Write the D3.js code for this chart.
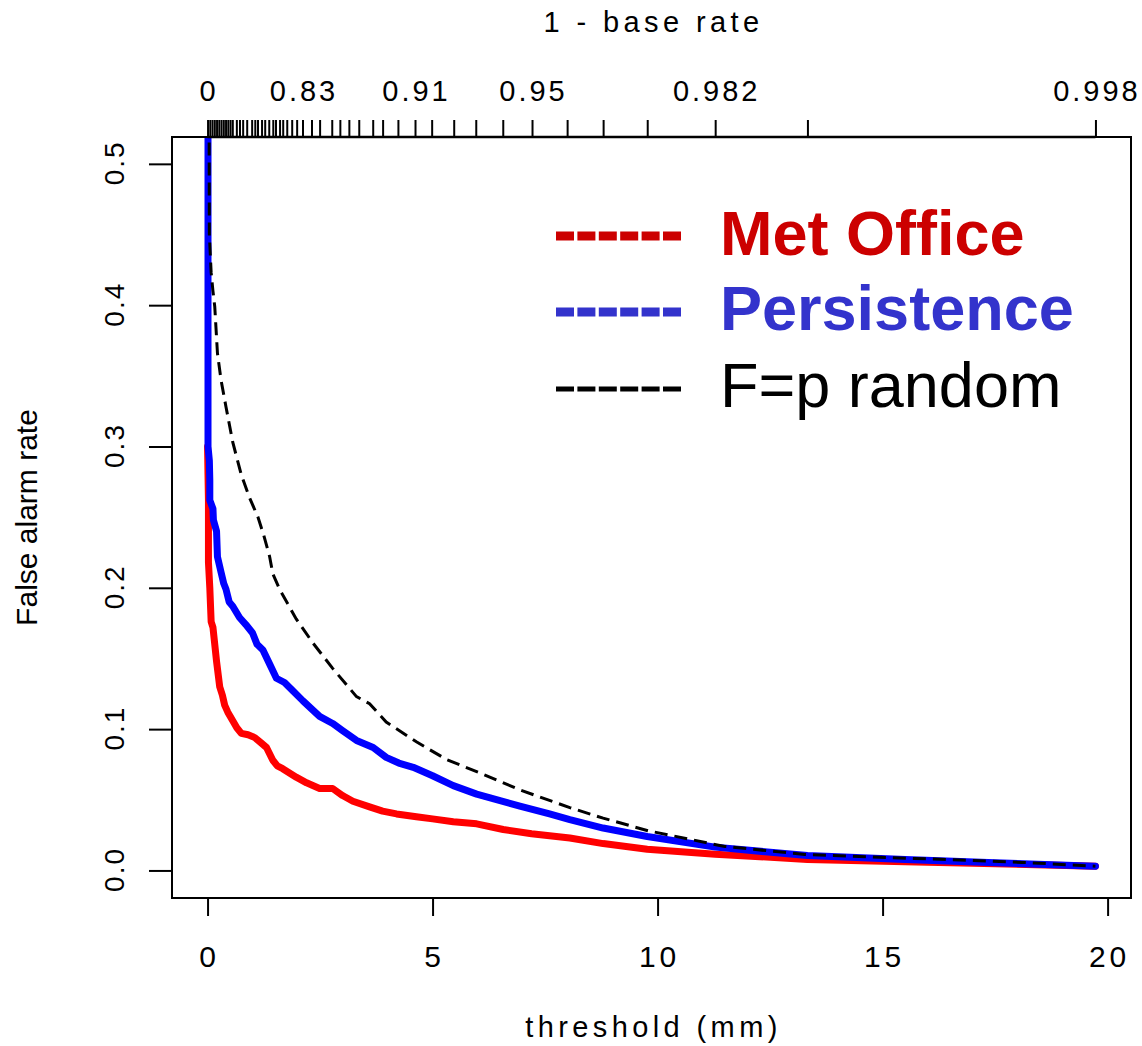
<!DOCTYPE html>
<html>
<head>
<meta charset="utf-8">
<script src="https://cdn.jsdelivr.net/npm/d3@7/dist/d3.min.js"></script>
<style>
  html, body { margin: 0; padding: 0; background: #fff; }
  svg { display: block; }
  text { font-family: "Liberation Sans", Arial, Helvetica, sans-serif; fill: #000; }
</style>
</head>
<body>
<svg id="chart" width="1142" height="1046"></svg>
<script>
// False alarm rate against precipitation threshold, [threshold (mm), F]
const metOffice = [
  [0.00, 0.300], [0.01, 0.280], [0.02, 0.262], [0.02, 0.218], [0.05, 0.200],
  [0.08, 0.176], [0.12, 0.172], [0.16, 0.160], [0.20, 0.148], [0.27, 0.130],
  [0.33, 0.124], [0.38, 0.117], [0.45, 0.112], [0.56, 0.106], [0.65, 0.101],
  [0.75, 0.097], [0.90, 0.096], [1.05, 0.094], [1.20, 0.090], [1.31, 0.087],
  [1.45, 0.078], [1.55, 0.074], [1.67, 0.072], [1.97, 0.066], [2.20, 0.062],
  [2.49, 0.058], [2.78, 0.058], [3.00, 0.053], [3.23, 0.049], [3.60, 0.045],
  [3.89, 0.042], [4.20, 0.040], [4.64, 0.038], [5.00, 0.0365], [5.46, 0.0345],
  [5.98, 0.033], [6.57, 0.029], [7.20, 0.026], [8.05, 0.023], [8.79, 0.019],
  [9.77, 0.015], [11.28, 0.0115], [13.33, 0.0078], [15.50, 0.0062], [17.50, 0.0048],
  [19.73, 0.003]
];

const persistence = [
  [0.01, 0.600], [0.01, 0.300], [0.04, 0.290], [0.05, 0.276], [0.05, 0.262],
  [0.12, 0.256], [0.13, 0.248], [0.20, 0.240], [0.22, 0.222], [0.30, 0.211],
  [0.36, 0.203], [0.41, 0.199], [0.48, 0.190], [0.56, 0.187], [0.71, 0.179],
  [0.85, 0.174], [1.00, 0.168], [1.10, 0.160], [1.23, 0.156], [1.38, 0.146],
  [1.53, 0.136], [1.71, 0.133], [1.90, 0.127], [2.12, 0.120], [2.49, 0.109],
  [2.78, 0.104], [3.00, 0.099], [3.31, 0.092], [3.68, 0.087], [3.97, 0.080],
  [4.25, 0.076], [4.57, 0.073], [5.00, 0.067], [5.46, 0.060], [5.98, 0.054],
  [6.94, 0.0455], [7.60, 0.040], [8.05, 0.036], [8.79, 0.030], [9.77, 0.024],
  [11.28, 0.0165], [13.33, 0.0105], [15.50, 0.0078], [17.50, 0.0055], [19.73, 0.003]
];

const randomFp = [
  [0.03, 0.600], [0.04, 0.450], [0.08, 0.423], [0.12, 0.410], [0.16, 0.399],
  [0.22, 0.366], [0.30, 0.347], [0.41, 0.328], [0.56, 0.303], [0.75, 0.280],
  [0.93, 0.264], [1.12, 0.250], [1.25, 0.237], [1.38, 0.222], [1.45, 0.210],
  [1.60, 0.199], [1.97, 0.178], [2.34, 0.161], [2.78, 0.143], [3.31, 0.123],
  [3.60, 0.118], [3.97, 0.105], [4.64, 0.091], [5.31, 0.0785], [6.05, 0.069],
  [6.94, 0.057], [8.05, 0.0445], [8.79, 0.037], [9.80, 0.028], [11.49, 0.017],
  [13.27, 0.0113], [15.70, 0.0085], [18.10, 0.0057], [19.73, 0.003]
];

// thresholds used, marked along the top (1 - base rate) axis
const thresholdTicks = [
  0, 0.05, 0.1, 0.15, 0.2, 0.25, 0.3, 0.35, 0.4, 0.45, 0.5, 0.55,
  0.64, 0.71, 0.78, 0.87, 0.98, 1.05, 1.11, 1.20, 1.27, 1.36, 1.45, 1.51,
  1.60, 1.67, 1.76, 1.87, 1.98, 2.11, 2.31, 2.49, 2.76, 2.94, 3.14, 3.36,
  3.67, 3.89, 4.23, 4.61, 4.98, 5.47, 5.96, 6.56, 7.21, 7.99, 8.79, 9.77,
  11.28, 13.33, 19.73
];
const baseRateLabelAt = [0, 2.11, 4.61, 7.21, 11.28, 19.73];
const baseRateLabels = ["0", "0.83", "0.91", "0.95", "0.982", "0.998"];

const thresholdTickValues = [0, 5, 10, 15, 20];
const farTickValues = [0, 0.1, 0.2, 0.3, 0.4, 0.5];

const legendNames = ["Met Office", "Persistence", "F=p random"];
const legendColors = ["#cc0000", "#3333cc", "#000000"];

// ---- layout ----
const svg = d3.select("#chart");
const plot = { left: 172, right: 1131, top: 137, bottom: 898 };

const x = d3.scaleLinear().domain([-0.79, 20.52]).range([plot.left, plot.right]);
const y = d3.scaleLinear().domain([-0.0195, 0.519]).range([plot.bottom, plot.top]);

svg.append("defs").append("clipPath").attr("id", "plot-clip")
  .append("rect")
  .attr("x", plot.left).attr("y", plot.top)
  .attr("width", plot.right - plot.left).attr("height", plot.bottom - plot.top);

// ---- curves ----
const line = d3.line().x(d => x(d[0])).y(d => y(d[1]));
const curves = svg.append("g").attr("clip-path", "url(#plot-clip)");

curves.append("path").datum(metOffice)
  .attr("d", line).attr("fill", "none")
  .attr("stroke", "#ff0000").attr("stroke-width", 7)
  .attr("stroke-linejoin", "round").attr("stroke-linecap", "round");

curves.append("path").datum(persistence)
  .attr("d", line).attr("fill", "none")
  .attr("stroke", "#0000ff").attr("stroke-width", 7)
  .attr("stroke-linejoin", "round").attr("stroke-linecap", "round");

curves.append("path").datum(randomFp)
  .attr("d", line).attr("fill", "none")
  .attr("stroke", "#000").attr("stroke-width", 3)
  .attr("stroke-dasharray", "13 7");

// ---- frame ----
svg.append("rect")
  .attr("x", plot.left).attr("y", plot.top)
  .attr("width", plot.right - plot.left).attr("height", plot.bottom - plot.top)
  .attr("fill", "none").attr("stroke", "#000").attr("stroke-width", 2);

// ---- axes ----
function styleAxis(g) {
  g.selectAll(".tick line").attr("stroke", "#000").attr("stroke-width", 2);
  g.select(".domain").remove();
  g.selectAll(".tick text").remove();
}

// bottom: threshold
const gx = svg.append("g").attr("transform", `translate(0,${plot.bottom})`)
  .call(d3.axisBottom(x).tickValues(thresholdTickValues).tickSize(18).tickSizeOuter(0));
styleAxis(gx);
svg.append("g").selectAll("text").data(thresholdTickValues).join("text")
  .attr("x", d => x(d) + 2).attr("y", 967)
  .attr("text-anchor", "middle")
  .style("font-size", "30px").style("letter-spacing", "4px")
  .text(d => d);

// top: 1 - base rate
const gt = svg.append("g").attr("transform", `translate(0,${plot.top})`)
  .call(d3.axisTop(x).tickValues(thresholdTicks).tickSize(17).tickSizeOuter(0));
styleAxis(gt);
gt.append("line")
  .attr("x1", x(thresholdTicks[0])).attr("x2", x(thresholdTicks[thresholdTicks.length - 1]))
  .attr("stroke", "#000").attr("stroke-width", 2.5);
svg.append("g").selectAll("text").data(baseRateLabelAt).join("text")
  .attr("x", d => x(d) + 1.5).attr("y", 101)
  .attr("text-anchor", "middle")
  .style("font-size", "29px").style("letter-spacing", "3px")
  .text((d, i) => baseRateLabels[i]);

// left: false alarm rate
const gy = svg.append("g").attr("transform", `translate(${plot.left},0)`)
  .call(d3.axisLeft(y).tickValues(farTickValues).tickSize(23).tickSizeOuter(0));
styleAxis(gy);
svg.append("g").selectAll("text").data(farTickValues).join("text")
  .attr("transform", d => `translate(124,${y(d)}) rotate(-90)`)
  .attr("dx", 1)
  .attr("text-anchor", "middle")
  .style("font-size", "28px").style("letter-spacing", "2px")
  .text(d => d3.format(".1f")(d));

// ---- axis titles ----
const midX = (plot.left + plot.right) / 2;
svg.append("text")
  .attr("x", midX + 2).attr("y", 1037)
  .attr("text-anchor", "middle")
  .style("font-size", "29px").style("letter-spacing", "4.4px")
  .text("threshold (mm)");

svg.append("text")
  .attr("x", midX + 2).attr("y", 32)
  .attr("text-anchor", "middle")
  .style("font-size", "29px").style("letter-spacing", "4.4px")
  .text("1 - base rate");

svg.append("text")
  .attr("transform", `translate(37,${(plot.top + plot.bottom) / 2}) rotate(-90)`)
  .attr("text-anchor", "middle")
  .style("font-size", "30px")
  .text("False alarm rate");

// ---- legend ----
const legend = svg.append("g");
const legendRowY = [236, 312, 389];
const legendBaseY = [255, 330, 407];
legendNames.forEach((name, i) => {
  legend.append("line")
    .attr("x1", 556).attr("x2", 681)
    .attr("y1", legendRowY[i]).attr("y2", legendRowY[i])
    .attr("stroke", legendColors[i])
    .attr("stroke-width", i < 2 ? 9 : 5)
    .attr("stroke-dasharray", "18 3.4");
  legend.append("text")
    .attr("x", 720).attr("y", legendBaseY[i])
    .style("font-size", "63px")
    .style("font-weight", i < 2 ? "bold" : "normal")
    .style("fill", legendColors[i])
    .text(name);
});
</script>
</body>
</html>
